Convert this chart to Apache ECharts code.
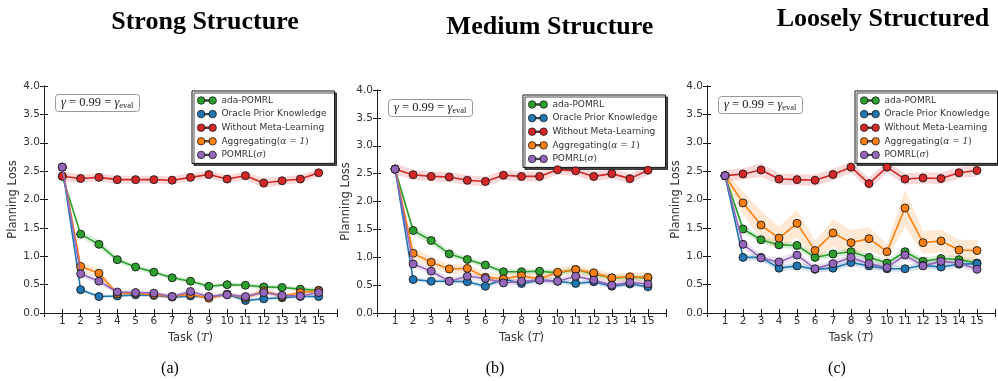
<!DOCTYPE html>
<html>
<head>
<meta charset="utf-8">
<script src="https://cdn.jsdelivr.net/npm/echarts@6/dist/echarts.min.js"></script>
<style>
  html, body { margin: 0; padding: 0; background: #fff; }
  #ct1 { width: 998px; height: 381px; }
</style>
</head>
<body>
<div id="ct1"></div>
<script>
var tasks = [1, 2, 3, 4, 5, 6, 7, 8, 9, 10, 11, 12, 13, 14, 15];
var names = ['ada-POMRL', 'Oracle Prior Knowledge', 'Without Meta-Learning', 'Aggregating(α = 1)', 'POMRL(σ)'];
var colors = ['#2ca02c', '#1f77b4', '#d62728', '#ff7f0e', '#9467bd'];
var panelTitles = ['Strong Structure', 'Medium Structure', 'Loosely Structured'];
var captions = ['(a)', '(b)', '(c)'];

// (a) strong structure - means
var aAda = [2.41, 1.39, 1.21, 0.94, 0.81, 0.72, 0.62, 0.56, 0.47, 0.50, 0.49, 0.46, 0.45, 0.42, 0.40];
var aOracle = [2.57, 0.41, 0.29, 0.30, 0.32, 0.31, 0.28, 0.30, 0.28, 0.33, 0.22, 0.25, 0.27, 0.29, 0.29];
var aNoMeta = [2.41, 2.37, 2.39, 2.35, 2.35, 2.35, 2.34, 2.39, 2.44, 2.36, 2.42, 2.29, 2.33, 2.36, 2.47];
var aAggr = [2.57, 0.82, 0.70, 0.34, 0.35, 0.32, 0.29, 0.33, 0.26, 0.33, 0.27, 0.39, 0.29, 0.36, 0.39];
var aPomrl = [2.57, 0.69, 0.56, 0.37, 0.36, 0.35, 0.29, 0.38, 0.29, 0.32, 0.29, 0.36, 0.31, 0.30, 0.36];
// (a) band half widths
var aAdaErr = [0.05, 0.06, 0.07, 0.05, 0.04, 0.04, 0.04, 0.04, 0.04, 0.04, 0.04, 0.04, 0.04, 0.04, 0.04];
var aOracleErr = [0.04, 0.03, 0.03, 0.03, 0.03, 0.03, 0.03, 0.03, 0.03, 0.03, 0.03, 0.03, 0.03, 0.03, 0.03];
var aNoMetaErr = [0.09, 0.07, 0.07, 0.07, 0.07, 0.07, 0.07, 0.07, 0.07, 0.07, 0.07, 0.09, 0.07, 0.07, 0.07];
var aAggrErr = [0.04, 0.08, 0.08, 0.04, 0.04, 0.04, 0.04, 0.04, 0.04, 0.04, 0.04, 0.05, 0.04, 0.04, 0.04];
var aPomrlErr = [0.04, 0.06, 0.05, 0.04, 0.04, 0.04, 0.04, 0.04, 0.04, 0.04, 0.04, 0.04, 0.04, 0.04, 0.04];

// (b) medium structure - means
var bAda = [2.58, 1.48, 1.30, 1.06, 0.96, 0.86, 0.74, 0.74, 0.75, 0.72, 0.78, 0.70, 0.63, 0.64, 0.63];
var bOracle = [2.58, 0.60, 0.57, 0.57, 0.56, 0.48, 0.61, 0.53, 0.59, 0.57, 0.53, 0.56, 0.48, 0.52, 0.47];
var bNoMeta = [2.58, 2.48, 2.45, 2.44, 2.38, 2.36, 2.47, 2.45, 2.45, 2.57, 2.55, 2.45, 2.50, 2.41, 2.56];
var bAggr = [2.58, 1.07, 0.91, 0.79, 0.80, 0.64, 0.61, 0.67, 0.61, 0.73, 0.78, 0.72, 0.63, 0.65, 0.64];
var bPomrl = [2.58, 0.88, 0.75, 0.57, 0.66, 0.62, 0.54, 0.57, 0.59, 0.57, 0.66, 0.59, 0.50, 0.55, 0.52];
// (b) band half widths
var bAdaErr = [0.05, 0.07, 0.07, 0.06, 0.05, 0.05, 0.05, 0.05, 0.05, 0.05, 0.05, 0.05, 0.05, 0.05, 0.05];
var bOracleErr = [0.04, 0.04, 0.04, 0.04, 0.04, 0.04, 0.04, 0.04, 0.04, 0.04, 0.04, 0.04, 0.04, 0.04, 0.04];
var bNoMetaErr = [0.10, 0.09, 0.09, 0.09, 0.09, 0.09, 0.09, 0.09, 0.09, 0.09, 0.09, 0.09, 0.09, 0.09, 0.09];
var bAggrErr = [0.05, 0.10, 0.10, 0.09, 0.08, 0.08, 0.08, 0.08, 0.08, 0.08, 0.08, 0.08, 0.08, 0.08, 0.08];
var bPomrlErr = [0.05, 0.06, 0.06, 0.06, 0.06, 0.06, 0.06, 0.06, 0.06, 0.06, 0.06, 0.06, 0.06, 0.06, 0.06];

// (c) loosely structured - means
var cAda = [2.42, 1.48, 1.29, 1.20, 1.19, 0.98, 1.04, 1.08, 0.98, 0.88, 1.08, 0.91, 0.96, 0.94, 0.88];
var cOracle = [2.42, 0.98, 0.98, 0.79, 0.83, 0.77, 0.79, 0.89, 0.83, 0.78, 0.78, 0.84, 0.81, 0.86, 0.87];
var cNoMeta = [2.42, 2.45, 2.52, 2.36, 2.35, 2.34, 2.44, 2.57, 2.28, 2.57, 2.36, 2.38, 2.37, 2.47, 2.51];
var cAggr = [2.42, 1.94, 1.55, 1.32, 1.58, 1.10, 1.41, 1.24, 1.31, 1.08, 1.85, 1.24, 1.27, 1.11, 1.10];
var cPomrl = [2.42, 1.21, 0.97, 0.90, 1.02, 0.78, 0.87, 0.98, 0.87, 0.80, 1.02, 0.83, 0.91, 0.88, 0.77];
// (c) band half widths
var cAdaErr = [0.06, 0.07, 0.06, 0.06, 0.06, 0.06, 0.06, 0.06, 0.06, 0.06, 0.06, 0.06, 0.06, 0.06, 0.06];
var cOracleErr = [0.06, 0.06, 0.06, 0.06, 0.06, 0.06, 0.06, 0.06, 0.06, 0.06, 0.06, 0.06, 0.06, 0.06, 0.06];
var cNoMetaErr = [0.10, 0.10, 0.12, 0.10, 0.10, 0.10, 0.10, 0.10, 0.10, 0.10, 0.10, 0.10, 0.10, 0.10, 0.10];
var cAggrErr = [0.08, 0.20, 0.25, 0.20, 0.24, 0.17, 0.24, 0.22, 0.20, 0.13, 0.32, 0.20, 0.20, 0.18, 0.18];
var cPomrlErr = [0.06, 0.07, 0.07, 0.07, 0.07, 0.07, 0.07, 0.07, 0.07, 0.07, 0.07, 0.07, 0.07, 0.07, 0.07];

var yTicks = [0, 0.5, 1, 1.5, 2, 2.5, 3, 3.5, 4];

var panels = [
    {means: [aAda, aOracle, aNoMeta, aAggr, aPomrl], errs: [aAdaErr, aOracleErr, aNoMetaErr, aAggrErr, aPomrlErr]},
    {means: [bAda, bOracle, bNoMeta, bAggr, bPomrl], errs: [bAdaErr, bOracleErr, bNoMetaErr, bAggrErr, bPomrlErr]},
    {means: [cAda, cOracle, cNoMeta, cAggr, cPomrl], errs: [cAdaErr, cOracleErr, cNoMetaErr, cAggrErr, cPomrlErr]}
];

// layout (px)
var grids = [
    {left: 44, top: 86, width: 293, height: 227},
    {left: 377, top: 90, width: 289, height: 223},
    {left: 707, top: 86, width: 290, height: 227}
];
var legendPos = [[192, 91], [523, 95], [855, 91]];
var gammaPos = [[55, 94], [388, 99], [718, 96]];
var titlePos = [[200, 4], [545, 9], [878, 1]];
var captionX = [165, 490, 832];

var curTheme = null;
var myChart1;
var axisColor = '#1a1a1a';
var labelColor = '#333';
var legendIcon = 'path://M1.5,8a6.5,6.5 0 1,0 13,0a6.5,6.5 0 1,0 -13,0Z M21.5,8a6.5,6.5 0 1,0 13,0a6.5,6.5 0 1,0 -13,0Z M14,6.8h8v2.4h-8Z';

function bandSeries(k, mean, err, color) {
    return {
        type: 'custom',
        xAxisIndex: k * 2,
        yAxisIndex: k * 2,
        silent: true,
        z: 1,
        data: tasks.map(function (t, i) {
            return [t, mean[i] - err[i], mean[i] + err[i]];
        }),
        renderItem: function (params, api) {
            if (params.dataIndex !== 0) return null;
            var upper = [], lower = [];
            for (var i = 0; i < tasks.length; i++) {
                upper.push(api.coord([api.value(0, i), api.value(2, i)]));
                lower.unshift(api.coord([api.value(0, i), api.value(1, i)]));
            }
            return {
                type: 'polygon',
                shape: {points: upper.concat(lower)},
                style: {fill: color, opacity: 0.18}
            };
        }
    };
}

function lineSeries(k, j) {
    var mean = panels[k].means[j];
    return {
        name: names[j],
        type: 'line',
        xAxisIndex: k * 2,
        yAxisIndex: k * 2,
        z: 3 + j,
        data: tasks.map(function (t, i) { return [t, mean[i]]; }),
        symbol: 'circle',
        symbolSize: 8,
        showSymbol: true,
        animation: false,
        lineStyle: {width: 1.6, color: colors[j]},
        itemStyle: {color: colors[j], borderColor: '#1a1a1a', borderWidth: 0.9}
    };
}

function buildOption() {
    var grid = [], xAxis = [], yAxis = [], series = [], legend = [], title = [];
    for (var k = 0; k < 3; k++) {
        grid.push(grids[k]);
        xAxis.push({
            type: 'value', gridIndex: k, min: 0, max: 16, interval: 1,
            name: 'Task ({i|T})', nameLocation: 'middle', nameGap: 15,
            nameTextStyle: {fontSize: 11.5, color: labelColor, fontFamily: 'DejaVu Sans',
                rich: {i: {fontStyle: 'italic', fontFamily: 'DejaVu Serif', fontSize: 11.5, color: labelColor}}},
            axisLine: {lineStyle: {color: axisColor, width: 1}},
            axisTick: {inside: true, length: 4, lineStyle: {color: axisColor}},
            axisLabel: {fontSize: 10.5, color: labelColor, margin: 3, fontFamily: 'DejaVu Sans',
                formatter: function (v) { return (v >= 1 && v <= 15) ? String(v) : ''; }},
            splitLine: {show: false}
        });
        xAxis.push({
            type: 'value', gridIndex: k, min: 0, max: 16, interval: 1, position: 'top',
            axisLine: {show: true, lineStyle: {color: axisColor, width: 1}},
            axisTick: {inside: true, length: 4, lineStyle: {color: axisColor}},
            axisLabel: {show: false}, splitLine: {show: false}
        });
        yAxis.push({
            type: 'value', gridIndex: k, min: yTicks[0], max: yTicks[yTicks.length - 1], interval: 0.5,
            name: 'Planning Loss', nameLocation: 'middle', nameGap: 25,
            nameTextStyle: {fontSize: 11.5, color: labelColor, fontFamily: 'DejaVu Sans'},
            axisLine: {show: true, lineStyle: {color: axisColor, width: 1}},
            axisTick: {show: true, inside: true, length: 4, lineStyle: {color: axisColor}},
            axisLabel: {fontSize: 10.5, color: labelColor, margin: 4, fontFamily: 'DejaVu Sans',
                formatter: function (v) { return v.toFixed(1); }},
            splitLine: {show: false}
        });
        yAxis.push({
            type: 'value', gridIndex: k, min: yTicks[0], max: yTicks[yTicks.length - 1], interval: 0.5,
            position: 'right',
            axisLine: {show: true, lineStyle: {color: axisColor, width: 1}},
            axisTick: {show: true, inside: true, length: 4, lineStyle: {color: axisColor}},
            axisLabel: {show: false}, splitLine: {show: false}
        });
        for (var j = 0; j < 5; j++) {
            series.push(bandSeries(k, panels[k].means[j], panels[k].errs[j], colors[j]));
        }
        for (var j2 = 0; j2 < 5; j2++) {
            series.push(lineSeries(k, j2));
        }
        legend.push({
            data: names,
            orient: 'vertical',
            left: legendPos[k][0], top: legendPos[k][1],
            itemWidth: 19, itemHeight: 8.5, itemGap: 4.6,
            icon: legendIcon,
            padding: [5, 8, 4, 5],
            backgroundColor: '#fff',
            borderColor: '#111', borderWidth: 1,
            shadowColor: 'rgba(0,0,0,0.7)', shadowOffsetX: 2, shadowOffsetY: 2, shadowBlur: 0,
            selectedMode: false,
            itemStyle: {borderWidth: 0.8, borderColor: '#1a1a1a'},
            formatter: function (n) {
                if (n === names[3]) return 'Aggregating({m|α = 1})';
                if (n === names[4]) return 'POMRL({m|σ})';
                return n;
            },
            textStyle: {fontSize: 9, color: '#333', fontFamily: 'DejaVu Sans',
                rich: {m: {fontSize: 9, fontStyle: 'italic', fontFamily: 'DejaVu Serif', color: '#333'}}}
        });
        title.push({
            text: '{i|γ} = 0.99 = {i|γ}{s|eval}',
            left: gammaPos[k][0], top: gammaPos[k][1],
            padding: [2, 6, 2, 6],
            borderColor: '#999', borderWidth: 1, borderRadius: 3,
            backgroundColor: '#fff',
            textStyle: {fontSize: 12.5, fontWeight: 'normal', color: '#222', fontFamily: 'Liberation Serif',
                rich: {
                    i: {fontSize: 12.5, fontStyle: 'italic', fontFamily: 'Liberation Serif', color: '#222'},
                    s: {fontSize: 8.5, fontFamily: 'Liberation Serif', color: '#222', verticalAlign: 'bottom', padding: [5, 0, 0, 0]}
                }}
        });
        title.push({
            text: panelTitles[k],
            left: titlePos[k][0], top: titlePos[k][1], textAlign: 'center',
            textStyle: {fontSize: 26, fontWeight: 'bold', color: '#000', fontFamily: 'Liberation Serif'}
        });
        title.push({
            text: captions[k],
            left: captionX[k], top: 356, textAlign: 'center',
            textStyle: {fontSize: 16, fontWeight: 'normal', color: '#000', fontFamily: 'Liberation Serif'}
        });
    }
    return {
        animation: false,
        backgroundColor: '#fff',
        title: title,
        grid: grid,
        xAxis: xAxis,
        yAxis: yAxis,
        legend: legend,
        series: series
    };
}

function initMyChar1() {
    if (myChart1 && myChart1.dispose) {
        myChart1.dispose();
    }
    myChart1 = echarts.init(document.getElementById('ct1'), curTheme);
    window.onresize = myChart1.resize;
    myChart1.setOption(buildOption(), true);
}

initMyChar1();
</script>
</body>
</html>
